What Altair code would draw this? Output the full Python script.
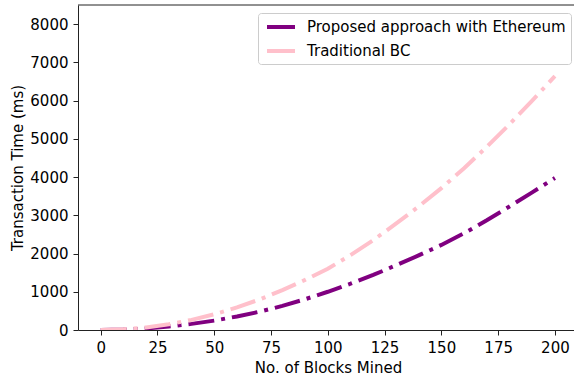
import altair as alt
import pandas as pd

# ---- data ----
blocks = [0, 10, 20, 30, 40, 50, 60, 70, 80, 90, 100,
          110, 120, 130, 140, 150, 160, 170, 180, 190, 200]
proposed = [0, 10, 40, 90, 160, 245, 355, 480, 630, 805, 1000,
            1210, 1440, 1690, 1950, 2225, 2530, 2870, 3230, 3600, 3975]
traditional = [0, 17, 66, 150, 265, 410, 590, 800, 1045, 1310, 1600,
               1960, 2350, 2780, 3230, 3710, 4230, 4790, 5380, 6000, 6640]
series_names = ["Proposed approach with Ethereum", "Traditional BC"]
series_colors = ["purple", "pink"]
x_ticks = [0, 25, 50, 75, 100, 125, 150, 175, 200]
y_ticks = [0, 1000, 2000, 3000, 4000, 5000, 6000, 7000, 8000]

df = pd.DataFrame({
    "blocks": blocks + blocks,
    "time": proposed + traditional,
    "series": [series_names[0]] * len(blocks) + [series_names[1]] * len(blocks),
})

W, H = 496, 325
FONT = "DejaVu Sans"
AX = "#222222"
FS = 15

lines = alt.Chart(df).mark_line(
    strokeWidth=4, strokeDash=[26, 7, 4, 7], clip=True
).encode(
    x=alt.X("blocks:Q",
            scale=alt.Scale(domain=[-10, 208.4], nice=False, zero=False),
            axis=alt.Axis(values=x_ticks, format="d", title="No. of Blocks Mined",
                          titleX=250, titleY=37, titleBaseline="middle",
                          labelPadding=5)),
    y=alt.Y("time:Q",
            scale=alt.Scale(domain=[0, 8500], nice=False),
            axis=alt.Axis(values=y_ticks, format="d", title="Transaction Time (ms)",
                          titleX=-61, titleY=H / 2, titleAngle=-90,
                          titleBaseline="middle", titleAlign="center",
                          labelPadding=5)),
    color=alt.Color("series:N",
                    scale=alt.Scale(domain=series_names, range=series_colors),
                    legend=alt.Legend(
                        title=None, orient="none", legendX=180, legendY=8,
                        padding=5, symbolType="M-2,0H2", symbolSize=196,
                        symbolStrokeWidth=4, symbolDash=[1, 0],
                        symbolOffset=9, labelOffset=17, rowPadding=7,
                        strokeColor="#cccccc", cornerRadius=3,
                        fillColor="white", labelFont=FONT, labelLimit=0,
                        labelFontSize=FS, labelColor="black")),
)

top_spine = alt.Chart(pd.DataFrame({"a": [0]})).mark_rule(
    color=AX, strokeWidth=1
).encode(x=alt.value(0), x2=alt.value(W), y=alt.value(0))

chart = alt.layer(lines, top_spine).properties(
    width=W, height=H,
    padding={"left": 78, "top": 5, "right": 0, "bottom": 49},
    autosize=alt.AutoSizeParams(type="none"),
).configure_view(stroke=None).configure_axis(
    grid=False, domainColor=AX, tickColor=AX, tickSize=5,
    labelFont=FONT, labelFontSize=FS, labelColor="black",
    titleFont=FONT, titleFontSize=FS, titleColor="black",
    titleFontWeight="normal",
)

chart.save("out.html", embed_options={"renderer": "svg", "actions": False})
